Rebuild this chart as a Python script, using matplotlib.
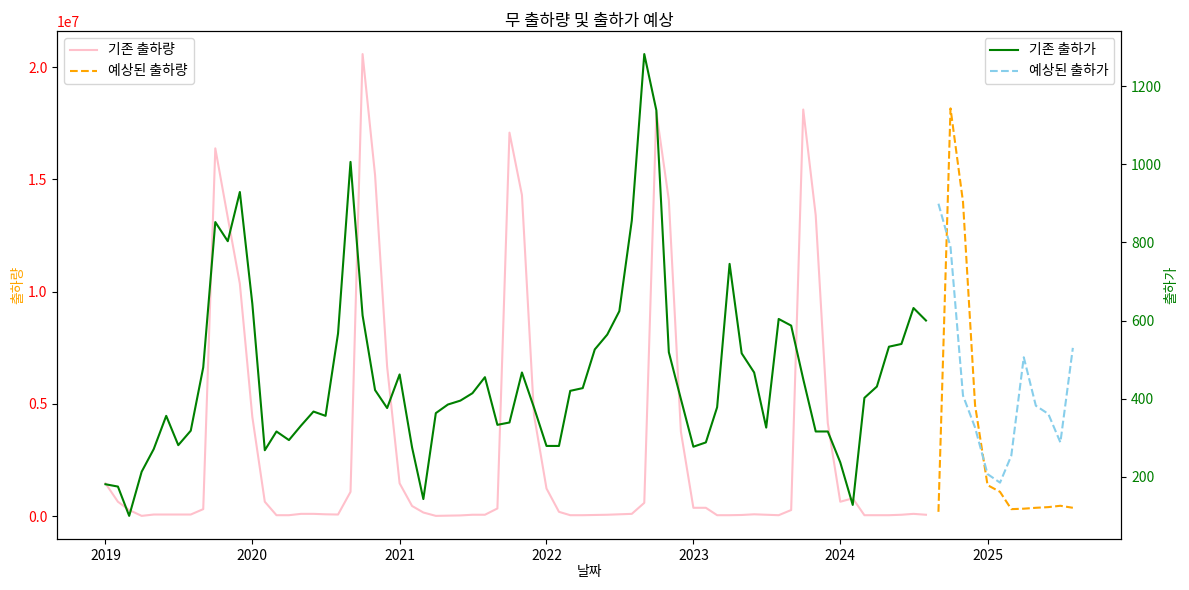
import numpy as np
import pandas as pd
import matplotlib
matplotlib.use('Agg')
import matplotlib.pyplot as plt

plt.rcParams['font.family'] = ['Noto Sans CJK KR', 'DejaVu Sans']
plt.rcParams['axes.unicode_minus'] = False

# 기존 데이터 (2019-01 ~ 2024-08)
dates = pd.date_range('2019-01-01', '2024-08-01', freq='MS')
volume = [1.46e6, 0.64e6, 0.27e6, 0.01e6, 0.07e6, 0.07e6, 0.07e6, 0.07e6, 0.31e6, 16.38e6, 13.3e6, 10.35e6,
          4.42e6, 0.64e6, 0.04e6, 0.04e6, 0.1e6, 0.1e6, 0.08e6, 0.07e6, 1.08e6, 20.58e6, 15.19e6, 6.65e6,
          1.46e6, 0.45e6, 0.16e6, 0.01e6, 0.02e6, 0.03e6, 0.06e6, 0.06e6, 0.34e6, 17.08e6, 14.3e6, 4.5e6,
          1.23e6, 0.19e6, 0.04e6, 0.04e6, 0.05e6, 0.06e6, 0.08e6, 0.1e6, 0.59e6, 18.0e6, 14.08e6, 3.76e6,
          0.37e6, 0.37e6, 0.04e6, 0.04e6, 0.05e6, 0.08e6, 0.06e6, 0.04e6, 0.27e6, 18.11e6, 13.4e6, 4.14e6,
          0.64e6, 0.79e6, 0.04e6, 0.04e6, 0.04e6, 0.06e6, 0.1e6, 0.06e6]
price = [181, 175, 100, 213, 271, 356, 281, 318, 480, 852, 803, 929,
         643, 268, 316, 294, 331, 367, 356, 567, 1006, 613, 422, 376,
         462, 275, 143, 363, 385, 395, 414, 455, 333, 339, 467, 377,
         279, 279, 420, 427, 526, 564, 624, 856, 1282, 1138, 519, 399,
         277, 288, 378, 745, 516, 467, 326, 604, 587, 450, 316, 316,
         237, 128, 402, 431, 533, 540, 632, 600]

# 예측 데이터 (2024-09 ~ 2025-08)
future_dates = pd.date_range('2024-09-01', '2025-08-01', freq='MS')
pred_volume = [0.19e6, 18.16e6, 14.0e6, 4.94e6, 1.38e6, 1.08e6, 0.31e6, 0.33e6, 0.37e6, 0.4e6, 0.46e6, 0.37e6]
pred_price = [899, 788, 408, 326, 207, 185, 254, 506, 382, 361, 288, 530]

fig, ax1 = plt.subplots(figsize=(11.89, 5.9), dpi=100)

ax1.plot(dates, volume, color='pink', label='기존 출하량')
ax1.plot(future_dates, pred_volume, color='orange', linestyle='--', label='예상된 출하량')
ax1.set_xlabel('날짜', labelpad=2)
ax1.set_ylabel('출하량', color='orange', labelpad=2)
ax1.tick_params(axis='y', labelcolor='red')

ax2 = ax1.twinx()
ax2.plot(dates, price, color='green', label='기존 출하가')
ax2.plot(future_dates, pred_price, color='skyblue', linestyle='--', label='예상된 출하가')
ax2.set_ylabel('출하가', color='green', labelpad=2)
ax2.tick_params(axis='y', labelcolor='green')

ax1.legend(loc='upper left')
ax2.legend(loc='upper right')

plt.title('무 출하량 및 출하가 예상', pad=4)
fig.subplots_adjust(left=0.048, right=0.943, top=0.9475, bottom=0.0865)
plt.savefig('out.png')
